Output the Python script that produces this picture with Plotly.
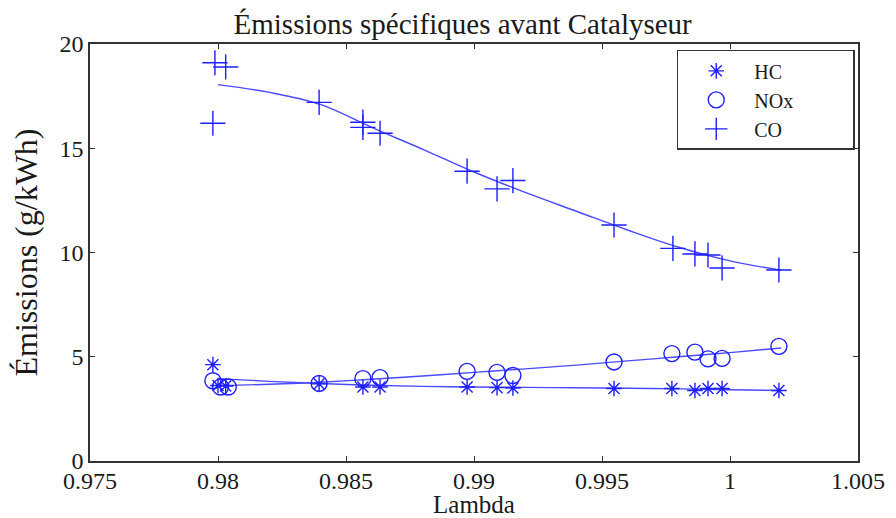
import plotly.graph_objects as go

# ---- measured points ----
hc_lambda = [0.9798, 0.9800, 0.9803, 0.98395, 0.98566, 0.98633, 0.98973, 0.9909, 0.99152,
             0.99547, 0.99773, 0.99863, 0.99914, 0.99969, 1.00191]
hc_values = [4.62, 3.62, 3.60, 3.70, 3.55, 3.55, 3.55, 3.52, 3.50,
             3.48, 3.48, 3.38, 3.48, 3.48, 3.38]

nox_lambda = [0.9798, 0.9801, 0.9804, 0.98395, 0.98566, 0.98633, 0.98973, 0.9909, 0.99152,
              0.99547, 0.99773, 0.99863, 0.99914, 0.99969, 1.00191]
nox_values = [3.85, 3.55, 3.55, 3.72, 3.95, 4.00, 4.30, 4.25, 4.10,
              4.75, 5.15, 5.22, 4.90, 4.92, 5.50]

co_lambda = [0.97988, 0.9803, 0.9798, 0.98395, 0.98566, 0.98566, 0.98633, 0.98973, 0.9909,
             0.99152, 0.99547, 0.99777, 0.99863, 0.99914, 0.99969, 1.00191]
co_values = [19.10, 18.90, 16.20, 17.20, 16.25, 16.00, 15.72, 13.90, 13.05,
             13.45, 11.32, 10.20, 9.93, 9.88, 9.26, 9.16]

# ---- fitted curves ----
fit_lambda = [0.980, 0.982, 0.984, 0.986, 0.988, 0.990, 0.992, 0.994, 0.996, 0.998, 1.000, 1.002]
hc_fit = [3.95, 3.82, 3.72, 3.63, 3.58, 3.55, 3.53, 3.51, 3.49, 3.46, 3.42, 3.38]
nox_fit = [3.62, 3.68, 3.78, 3.92, 4.08, 4.25, 4.42, 4.60, 4.80, 5.00, 5.20, 5.42]
co_fit = [18.05, 17.68, 17.10, 16.00, 14.95, 13.86, 12.88, 11.98, 11.08, 10.25, 9.60, 9.15]

x_ticks = [0.975, 0.98, 0.985, 0.99, 0.995, 1, 1.005]
x_tick_labels = ["0.975", "0.98", "0.985", "0.99", "0.995", "1", "1.005"]
y_ticks = [0, 5, 10, 15, 20]

series_names = ["HC", "NOx", "CO"]
title_text = "Émissions spécifiques avant Catalyseur"
x_title = "Lambda"
y_title = "Émissions (g/kWh)"

MARK = "#1e1eff"
LINE = "#4a4aff"
FONT = "Liberation Serif"
TXT = "#1a1a1a"
PAD = "\u00a0" * 11

fig = go.Figure()
for fy in (hc_fit, nox_fit, co_fit):
    fig.add_trace(go.Scatter(x=fit_lambda, y=fy, mode="lines", line=dict(color=LINE, width=1.4, shape="spline"),
                             showlegend=False, hoverinfo="skip"))

fig.add_trace(go.Scatter(x=hc_lambda, y=hc_values, mode="markers", name=series_names[0] + PAD,
                         marker=dict(symbol="asterisk-open", size=13, color=MARK, line=dict(color=MARK, width=1.4))))
fig.add_trace(go.Scatter(x=nox_lambda, y=nox_values, mode="markers", name=series_names[1] + PAD,
                         marker=dict(symbol="circle-open", size=16, color=MARK, line=dict(color=MARK, width=1.4))))
fig.add_trace(go.Scatter(x=co_lambda, y=co_values, mode="markers", name=series_names[2] + PAD,
                         marker=dict(symbol="cross-thin-open", size=18, color=MARK, line=dict(color=MARK, width=1.4))))

axis_common = dict(showline=True, mirror="allticks", linecolor="#333333", linewidth=1.5,
                   ticks="inside", ticklen=5, tickcolor="#333333", showgrid=False, zeroline=False,
                   automargin=False, tickfont=dict(family=FONT, size=24, color=TXT))

# the page body adds an 8px offset, so the figure is sized to fit the window
fig.update_layout(
    width=888, height=510,
    margin=dict(l=82, r=38, t=36, b=57, autoexpand=False),
    paper_bgcolor="white", plot_bgcolor="white",
    title=dict(text=title_text, x=0.512, xanchor="center", y=0.968, yanchor="middle",
               font=dict(family=FONT, size=29, color=TXT)),
    xaxis=dict(range=[0.975, 1.005], tickvals=x_ticks, ticktext=x_tick_labels, ticklabelstandoff=-3,
               title=dict(text=x_title, font=dict(family=FONT, size=25, color=TXT), standoff=0),
               **axis_common),
    yaxis=dict(range=[0, 20], tickvals=y_ticks,
               title=dict(text=y_title, font=dict(family=FONT, size=32, color=TXT), standoff=20),
               **axis_common),
    legend=dict(x=0.764, y=0.986, xanchor="left", yanchor="top",
                bgcolor="white", bordercolor="#333333", borderwidth=1.5,
                font=dict(family=FONT, size=20, color=TXT), tracegroupgap=0,
                itemwidth=66),
    showlegend=True,
)

fig.write_html("out.html")
